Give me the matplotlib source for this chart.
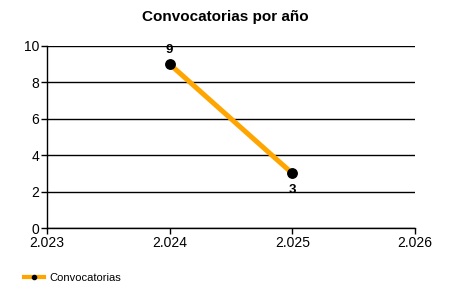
import matplotlib
matplotlib.use("Agg")
import matplotlib.pyplot as plt
from matplotlib.lines import Line2D

years = [2024, 2025]
counts = [9, 3]
x_ticks = [2023, 2024, 2025, 2026]
x_tick_labels = ["2.023", "2.024", "2.025", "2.026"]
y_ticks = [0, 2, 4, 6, 8, 10]
title = "Convocatorias por año"
series_name = "Convocatorias"

plt.rcParams['font.family'] = ['Liberation Sans', 'DejaVu Sans']

fig = plt.figure(figsize=(4.5, 3), dpi=100)
ax = fig.add_axes([0.1044, 0.24, 0.8178, 0.607])

ax.plot(years, counts, color='#FFA500', linewidth=3.6, marker='o',
        markersize=6.8, markerfacecolor='black', markeredgecolor='black', zorder=3)

label_offsets = [10, -12]
for x, y, off in zip(years, counts, label_offsets):
    ax.annotate(str(y), (x, y), xytext=(0, off), textcoords='offset points',
                ha='center', va='center', fontsize=9.5, fontweight='bold')

ax.set_xlim(2023, 2026)
ax.set_ylim(0, 10)
ax.set_xticks(x_ticks)
ax.set_xticklabels(x_tick_labels)
ax.set_yticks(y_ticks)
ax.yaxis.grid(True, color='black', linewidth=1)
ax.set_axisbelow(True)
for s in ['top', 'right']:
    ax.spines[s].set_visible(False)
for s in ['left', 'bottom']:
    ax.spines[s].set_linewidth(1)
ax.tick_params(axis='both', labelsize=10, length=4, width=1, pad=1.5)

fig.suptitle(title, x=0.5, y=0.965, fontsize=11, fontweight='bold')

handle = Line2D([], [], color='#FFA500', linewidth=3, marker='o', markersize=3,
                markerfacecolor='black', markeredgecolor='black')
fig.legend([handle], [series_name], loc='center left', bbox_to_anchor=(0.03, 0.073),
           frameon=False, fontsize=8, handlelength=1.8, handletextpad=0.5)

fig.savefig('out.png', dpi=100)
